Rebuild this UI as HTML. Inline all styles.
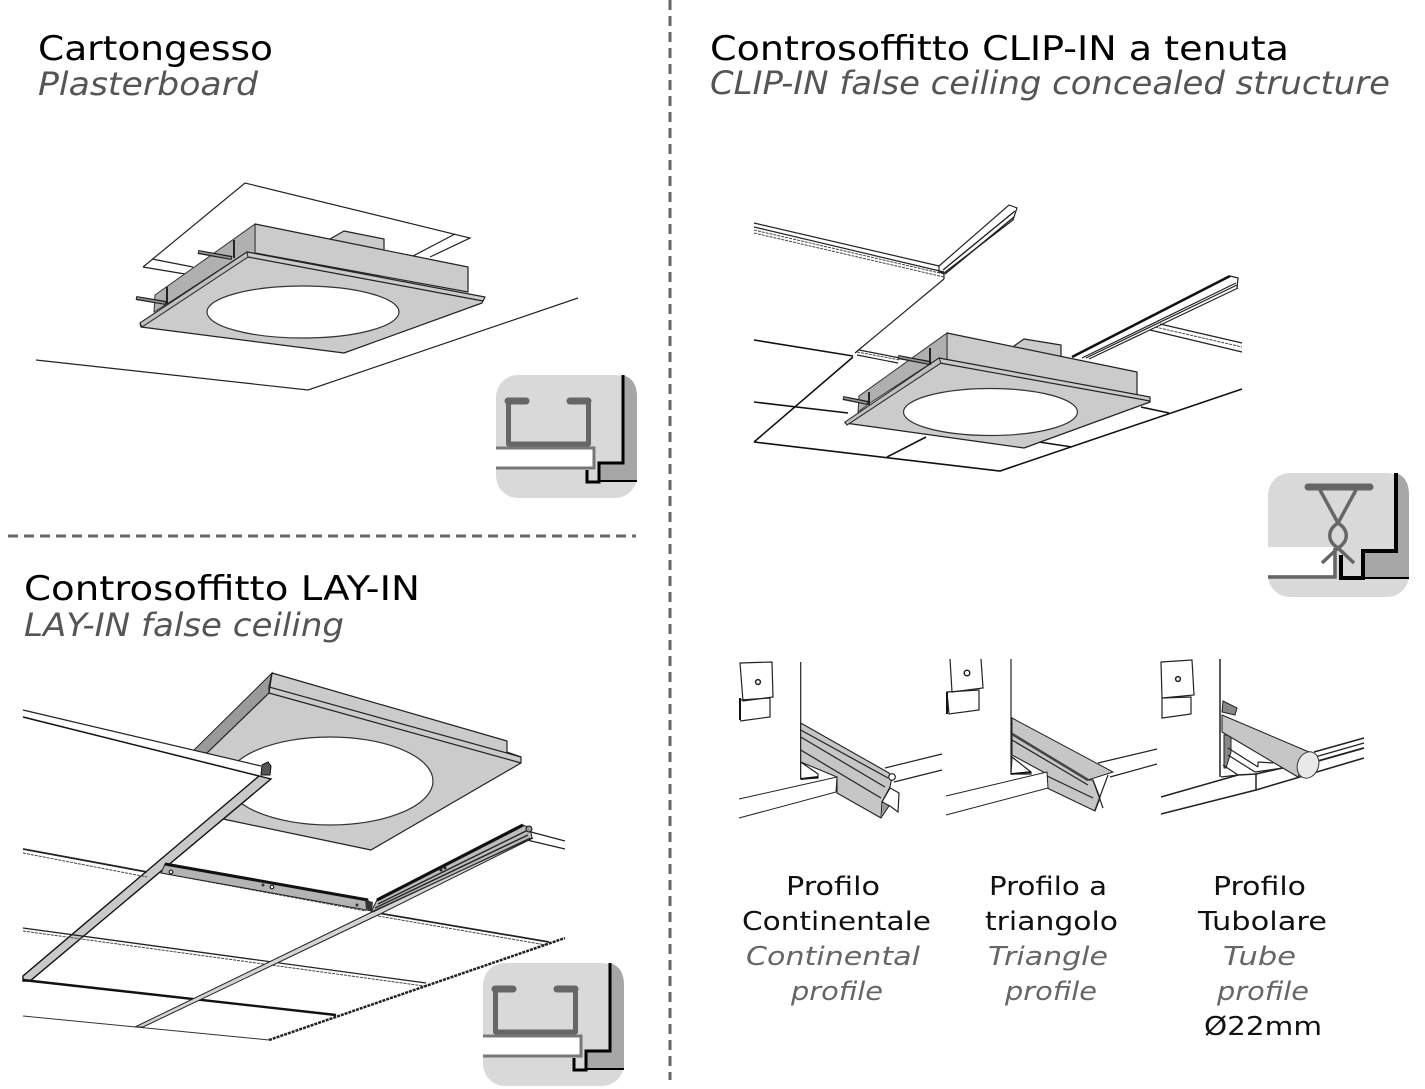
<!DOCTYPE html>
<html><head><meta charset="utf-8"><style>
html,body{margin:0;padding:0;background:#fff}
svg{display:block}
text{font-family:"DejaVu Sans","Liberation Sans",sans-serif}
.t{font-size:34px;fill:#000}
.s{font-size:32px;fill:#555;font-style:italic}
.p{font-size:26px;fill:#111}
.q{font-size:26px;fill:#666;font-style:italic}
.l{fill:none;stroke:#222;stroke-width:1.2}
.h{fill:none;stroke:#111;stroke-width:2}
.g{fill:#cbcbcb;stroke:#222;stroke-width:1.2;stroke-linejoin:round}
.f{fill:#c6c6c6;stroke:#222;stroke-width:1.1;stroke-linejoin:round}
.m{fill:#b0b0b0;stroke:#333;stroke-width:1}
.w{fill:#fff;stroke:#222;stroke-width:1.2}
.d{fill:none;stroke:#444;stroke-width:1;stroke-dasharray:3 1}
.k{fill:#888;stroke:#222;stroke-width:1}
</style></head><body>
<svg width="1425" height="1089" viewBox="0 0 1425 1089" xmlns="http://www.w3.org/2000/svg">
<defs>
<g id="ic">
<rect x="0" y="0" width="141" height="123" rx="22" fill="#d9d9d9"/>
<path d="M127 0V88H103V107H141V22Q141 4 127 0Z" fill="#a6a6a6"/>
<path d="M127 0V88H103V107H91V95" fill="none" stroke="#000" stroke-width="3"/>
<path d="M103 106H141" stroke="#000" stroke-width="2"/>
<path d="M30 26H12.500V69H92.500V26H74" fill="none" stroke="#666" stroke-width="5" stroke-linejoin="round"/>
<path d="M12 26H30M74 26H92" stroke="#666" stroke-width="7" stroke-linecap="round"/>
<path d="M0 74H98V92H0Z" fill="#fff"/>
<path d="M0 73H98V93H0" fill="none" stroke="#777" stroke-width="3"/>
</g>
</defs>

<!-- dividers -->
<path d="M670 0V1080" stroke="#666" stroke-width="3" stroke-dasharray="10 6" fill="none"/>
<path d="M8 536H636" stroke="#666" stroke-width="3" stroke-dasharray="10 6" fill="none"/>

<!-- titles -->
<text class="t" x="38" y="60" textLength="235" lengthAdjust="spacingAndGlyphs">Cartongesso</text>
<text class="s" x="38" y="95" textLength="220" lengthAdjust="spacingAndGlyphs">Plasterboard</text>
<text class="t" x="710" y="60" textLength="579" lengthAdjust="spacingAndGlyphs">Controsoffitto CLIP-IN a tenuta</text>
<text class="s" x="710" y="94" textLength="680" lengthAdjust="spacingAndGlyphs">CLIP-IN false ceiling concealed structure</text>
<text class="t" x="24" y="600" textLength="396" lengthAdjust="spacingAndGlyphs">Controsoffitto LAY-IN</text>
<text class="s" x="24" y="636" textLength="320" lengthAdjust="spacingAndGlyphs">LAY-IN false ceiling</text>

<!-- profile labels -->
<text class="p" x="786" y="895" textLength="94" lengthAdjust="spacingAndGlyphs">Profilo</text>
<text class="p" x="742" y="930" textLength="189" lengthAdjust="spacingAndGlyphs">Continentale</text>
<text class="q" x="746" y="965" textLength="174" lengthAdjust="spacingAndGlyphs">Continental</text>
<text class="q" x="791" y="1000" textLength="92" lengthAdjust="spacingAndGlyphs">profile</text>
<text class="p" x="989" y="895" textLength="118" lengthAdjust="spacingAndGlyphs">Profilo a</text>
<text class="p" x="985" y="930" textLength="133" lengthAdjust="spacingAndGlyphs">triangolo</text>
<text class="q" x="988" y="965" textLength="120" lengthAdjust="spacingAndGlyphs">Triangle</text>
<text class="q" x="1005" y="1000" textLength="92" lengthAdjust="spacingAndGlyphs">profile</text>
<text class="p" x="1213" y="895" textLength="93" lengthAdjust="spacingAndGlyphs">Profilo</text>
<text class="p" x="1198" y="930" textLength="129" lengthAdjust="spacingAndGlyphs">Tubolare</text>
<text class="q" x="1223" y="965" textLength="73" lengthAdjust="spacingAndGlyphs">Tube</text>
<text class="q" x="1217" y="1000" textLength="92" lengthAdjust="spacingAndGlyphs">profile</text>
<text class="p" x="1204" y="1035" textLength="118" lengthAdjust="spacingAndGlyphs">Ø22mm</text>

<!-- PANEL 1: plasterboard -->
<path class="l" d="M143 267L245 183L470 238L430 257M152 259L193 267M143 267L185 274M455 234L413 256"/>
<path class="l" d="M36 360L308 390L578 298"/>
<path class="g" d="M330 239L344 231L384 239V252L330 245Z"/>
<path class="g" d="M255 224L468 267V292L255 253Z"/>
<path class="m" d="M255 224V254L247 252L170 302L154 312L155 295Z"/>
<path class="g" d="M247 252L485 297L482 303L344 353L141 327L140 323Z"/>
<path class="l" d="M248 257L483 301"/>
<path d="M247 252L140 323L142 327L248 257Z" fill="#c0c0c0" stroke="#222"/>
<ellipse cx="303" cy="312" rx="96" ry="26" fill="#fff" stroke="#333" stroke-width="1.200"/>
<path d="M198 252L232 258M136 298L166 303" stroke="#222" stroke-width="4" fill="none"/>
<path d="M199 252L231 258M137 298L165 303" stroke="#999" stroke-width="1.500" fill="none"/>
<path d="M234 240V258M167 287V304" stroke="#222" stroke-width="2" fill="none"/>
<use href="#ic" x="496" y="375"/>

<!-- PANEL 2: clip-in -->
<path class="l" d="M754 223L939 266M754 227L944 272"/>
<path class="d" d="M754 233L944 277M754 230L944 274"/>
<path class="l" d="M939 266V272L944 273V279M939 266L1009 205L1017 208L1013 220L944 273"/>
<path d="M943 270L1015 211M945 274L1014 217" stroke="#222" stroke-width="1.400" fill="none"/>
<path class="l" d="M944 279L855 353"/>
<path d="M853 357L754 442M754 442L1000 471L1242 389M754 340L853 356M754 402L848 413M926 437L887 457M1039 442L1072 447M1141 407L1169 413" fill="none" stroke="#111" stroke-width="1.600"/>
<path class="l" d="M859 350L900 358M857 355L898 363"/>
<path class="d" d="M857 352L900 360"/>
<path d="M1072 357L1230 276" stroke="#111" stroke-width="2.600" fill="none"/>
<path class="l" d="M1089 359L1238 288M1230 276L1238 278L1237 288M1082 358L1236 283M1086 358L1237 285"/>
<path class="l" d="M1160 324L1242 343M1150 330L1242 352"/>
<path class="d" d="M1155 327L1242 347"/>
<path class="g" d="M1014 346L1024 339L1061 345V358L1014 352Z"/>
<path class="g" d="M947 333L1137 372V397L947 360Z"/>
<path class="m" d="M947 333V360L939 358L870 403L858 412L859 396Z"/>
<path class="g" d="M939 358L1150 397V402L1024 448L845 423Z"/>
<path class="l" d="M940 363L1150 401"/>
<path d="M939 358L845 422L847 425L941 363Z" fill="#c0c0c0" stroke="#222"/>
<ellipse cx="990.500" cy="412" rx="87" ry="23.500" fill="#fff" stroke="#333" stroke-width="1.200"/>
<path d="M898 357L930 363M843 398L868 403" stroke="#222" stroke-width="4" fill="none"/>
<path d="M899 357L929 363M844 398L867 403" stroke="#999" stroke-width="1.500" fill="none"/>
<path d="M930 348V365M869 392V405" stroke="#222" stroke-width="2" fill="none"/>
<!-- clip icon -->
<g transform="translate(1268 473)">
<rect width="141" height="124" rx="22" fill="#d9d9d9"/>
<path d="M128 0V78H95V105H141V22Q141 4 128 0Z" fill="#a6a6a6"/>
<path d="M0 74H65V102H0Z" fill="#fff"/>
<path d="M0 104H67V75" stroke="#666" stroke-width="3.500" fill="none"/>
<path d="M40 14H102" stroke="#666" stroke-width="7" stroke-linecap="round"/>
<path d="M52 17L70 50C59 57 59 68 70 75L54 90M88 17L70 50C81 57 81 68 70 75L86 90" fill="none" stroke="#666" stroke-width="3.500"/>
<path d="M73 82V105H95V78H128V0" fill="none" stroke="#000" stroke-width="4"/>
<path d="M95 105H141" stroke="#000" stroke-width="2"/>
</g>

<!-- PANEL 3: lay-in -->
<path d="M272 673L193 751L207 753L269 693L269 687Z" fill="#9a9a9a" stroke="#222"/>
<path class="g" d="M272 673L507 741V752L521 757V763L371 850L223 819L207 753L269 693Z"/>
<path class="l" d="M272 673L269 687L521 757M269 693L521 763M269 687V693"/>
<ellipse cx="330" cy="781" rx="103" ry="44" fill="#fff" stroke="#333" stroke-width="1.200"/>
<path d="M23 710L261 766L259 775L271 779L23 985Z" fill="#fff"/>
<path class="l" d="M23 710L261 766"/>
<path d="M23 717L259 776" stroke="#111" stroke-width="1.500" fill="none"/>
<path d="M259 776L271 779L30 981H23V976Z" fill="#c9c9c9" stroke="#111" stroke-width="1.400"/>
<path d="M261 775L262 765L268 762L271 766L270 775Z" fill="#555" stroke="#111"/>
<!-- beams -->
<path d="M23 849L147 872" stroke="#222" stroke-width="1.800" fill="none"/>
<path class="d" d="M23 853L147 877M161 873L366 911"/>
<path d="M165 864L368 900L372 911L161 873Z" fill="#b3b3b3" stroke="#222"/>
<path d="M165 864L368 900" stroke="#111" stroke-width="3" fill="none"/>
<circle cx="171" cy="872" r="1.800" class="w"/><circle cx="263" cy="885" r="1.500" fill="#333"/><circle cx="272" cy="887" r="1.800" class="w"/><circle cx="357" cy="905" r="1.500" fill="#333"/>
<path d="M378 913L549 942" stroke="#222" stroke-width="1.700" fill="none"/>
<path class="d" d="M378 916L546 945"/>
<path d="M23 928L426 983" stroke="#222" stroke-width="1.300" fill="none"/>
<path class="d" d="M23 931L424 986"/>
<path d="M23 980L336 1015" stroke="#111" stroke-width="2.400" fill="none"/>
<path d="M23 1016L269 1040" stroke="#333" stroke-width="1" fill="none"/>
<path d="M269 1040L565 938" stroke="#222" stroke-width="2.500" stroke-dasharray="3 1" fill="none"/>
<path d="M527 840L533 838L378 915L143 1027H135L372 912Z" fill="#d4d4d4" stroke="#222"/>
<path d="M377 900L523 825L530 828L532 838L371 912Z" fill="#bbb" stroke="#222"/>
<path d="M377 900L523 825" stroke="#111" stroke-width="3.200" fill="none"/>
<path d="M378 904L526 831M375 908L528 835" stroke="#222" stroke-width="1.400" fill="none"/>
<path d="M373 912L530 838" stroke="#333" stroke-width="1" fill="none"/>
<path class="l" d="M531 832L565 841M527 840L565 849"/>
<path d="M365 900L373 902L372 911L366 909Z" fill="#333"/>
<circle cx="441" cy="870" r="1.500" fill="#222"/><circle cx="445" cy="868" r="1.500" fill="#222"/>
<circle cx="529" cy="829" r="3" fill="#999" stroke="#111"/>
<use href="#ic" x="483" y="963"/>

<!-- PROFILES -->
<!-- profile 1 -->
<g>
<path class="l" d="M740 663L772 662L773 697L743 701ZM740 700L770 698V717L740 721"/>
<path d="M740 698V720" stroke="#111" stroke-width="2"/>
<circle cx="758" cy="682" r="2.400" fill="none" stroke="#222" stroke-width="1.500"/>
<path class="l" d="M800.700 662V779"/>
<path class="l" d="M885 768L942 754M894 782L942 770"/>
<path class="f" d="M800.700 723L889 773L892 777L890 787L882 802L881 818L837 793V777L800.700 762Z"/>
<path class="l" d="M800.700 730L888 778M800.700 737L885 787M800.700 750L881 798"/>
<path class="w" d="M800.700 762L818 774V778L800.700 779Z"/>
<path d="M801 779L818 777" stroke="#111" stroke-width="2"/>
<path d="M739 799L837 777L836 792L739 818" fill="#fff" stroke="#222"/>
<path class="w" d="M890 788L899 793L898 812L890 806L882 802Z" />
<path d="M883 802L889 806L881 818" fill="#999" stroke="#222"/>
<circle cx="892" cy="777" r="3.300" class="w"/>
</g>
<!-- profile 2 -->
<g>
<path class="l" d="M950 659L952 692L983 688L981 659"/>
<path class="l" d="M947 692L979 690V710L949 714Z"/>
<path d="M947 692V714" stroke="#111" stroke-width="2"/>
<circle cx="967" cy="673" r="2.800" fill="none" stroke="#222" stroke-width="1.500"/>
<path class="l" d="M1011 659V774"/>
<path class="l" d="M1098 763L1157 749M1110 777L1157 764"/>
<path class="f" d="M1012 733L1088 780L1093 780L1100 798L1095 811L1047 788V774L1012 755Z"/>
<path d="M1012 718L1113 772L1088 780L1012 733Z" fill="#c6c6c6" stroke="#222"/>
<path d="M1012 734L1088 780" stroke="#444" stroke-width="2.500" fill="none"/>
<path class="l" d="M1012 740L1088 785M1045 775L1093 798"/>
<path class="w" d="M1012 757L1031 772V774L1011 774Z"/>
<path d="M1011 774L1031 772" stroke="#111" stroke-width="1.800"/>
<path d="M946 796L1047 772L1048 788L946 815" fill="#fff" stroke="#222"/>
<path class="l" d="M1093 780L1103 808M1108 775L1095 810"/>
</g>
<!-- profile 3 -->
<g>
<path class="l" d="M1161 662L1192 660L1194 695L1162 698ZM1162 698L1191 697V714L1162 718Z"/>
<circle cx="1178" cy="679" r="2.400" fill="none" stroke="#222" stroke-width="1.500"/>
<path d="M1220 659V777" stroke="#222" stroke-width="1.500" fill="none"/>
<path class="k" d="M1223 701L1237 708L1235 715L1222 712Z"/>
<path d="M1224 735H1231V752L1226 768H1224Z" fill="#888" stroke="#222"/>
<path class="l" d="M1228 748L1258 767M1228 755L1255 772M1258 762L1273 763M1255 772L1283 768M1258 762V767"/>
<path class="l" d="M1221 777L1238 775L1223 765"/>
<path d="M1161 797L1238 775L1256 774V790L1161 814" fill="#fff" stroke="#222" stroke-width="1.500"/>
<path d="M1256 774L1300 764M1256 790L1364 758M1314 752L1364 738" stroke="#222" stroke-width="1.600" fill="none"/>
<path class="l" d="M1315 757L1364 743"/>
<path d="M1318 761L1364 748" stroke="#222" stroke-width="1.800" fill="none"/>
<path class="f" d="M1222 715L1309 752L1298 777L1222 732Z"/>
<ellipse cx="1308" cy="765" rx="10.500" ry="13.500" transform="rotate(20 1308 765)" fill="#e9e9e9" stroke="#333"/>
</g>
</svg>
</body></html>
